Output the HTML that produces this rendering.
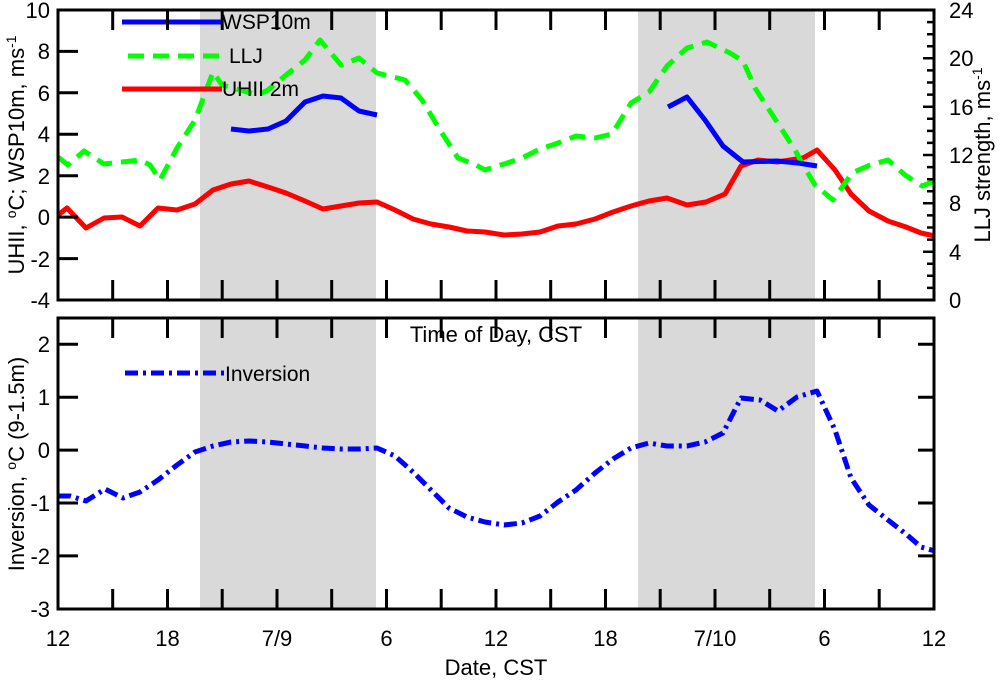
<!DOCTYPE html>
<html><head><meta charset="utf-8"><style>
html,body{margin:0;padding:0;background:#fff;}
svg{display:block;font-family:"Liberation Sans",sans-serif;}
</style></head><body>
<svg width="1000" height="683" viewBox="0 0 1000 683" xmlns="http://www.w3.org/2000/svg">
<rect x="200" y="10" width="176" height="290" fill="#d9d9d9"/>
<rect x="638" y="10" width="177" height="290" fill="#d9d9d9"/>
<rect x="200" y="318" width="176" height="291" fill="#d9d9d9"/>
<rect x="638" y="318" width="177" height="291" fill="#d9d9d9"/>

<g fill="none" stroke-width="5" stroke-linejoin="round">
<polyline stroke="#ff0000" points="58,215 67,208 86,228 104,218 122,217 140,226 158,208 177,210 195,204 213,190 231,184 249,181 268,187 286,193 305,201 323,209 341,206 359,203 377,202 395,210 413,219 431,224 449,227 467,231 485,232 504,235 522,234 540,232 558,226 576,224 595,219 613,212 631,206 649,201 667,198 687,205 706,202 725,194 741,166 758,160 777,162 803,158 817,150 835,170 851,194 869,211 888,221 906,227 921,233 935,236"/>
<polyline stroke="#00ff00" stroke-dasharray="16,9" points="58,157 68,165 84,151 104,164 140,160 150,165 160,180 177,148 195,120 213,72 222,85 240,90 258,95 268,90 286,75 305,60 320,40 341,65 359,58 377,73 405,80 422,100 440,130 458,158 476,165 485,170 504,164 522,158 540,149 558,143 576,136 595,138 612,134 631,103 649,92 667,66 687,48 707,42 730,53 743,61 755,88 777,122 795,150 803,165 815,185 833,200 852,173 870,165 888,160 905,175 922,186 935,181"/>
<polyline stroke="#0000ff" points="231,129 249,131 268,129 286,121 305,102 323,96 341,98 359,111 377,115"/>
<polyline stroke="#0000ff" points="668,107 687,97 705,120 723,146 743,162 777,161 798,163 817,166"/>
</g>
<line x1="122" y1="22" x2="222" y2="22" stroke="#0000ff" stroke-width="5"/>
<line x1="128" y1="56" x2="228" y2="56" stroke="#00ff00" stroke-width="5" stroke-dasharray="16,9"/>
<line x1="122" y1="89" x2="222" y2="89" stroke="#ff0000" stroke-width="5"/>
<g font-size="21" fill="#000">
<text x="222" y="29">WSP10m</text>
<text x="229" y="63">LLJ</text>
<text x="222" y="96">UHII 2m</text>
</g>

<polyline fill="none" stroke="#0000ff" stroke-width="5" stroke-linejoin="round" stroke-dasharray="13,5,3,5" points="58,496 70,496 86,501 105,489 123,498 140,492 158,480 177,465 195,452 213,446 231,442 249,441 268,442 286,444 305,446 323,448 341,449 359,449 377,448 395,456 413,472 431,490 449,508 467,517 485,522 504,525 522,523 540,516 558,502 576,490 595,473 613,459 631,448 649,443 667,446 687,446 705,442 723,433 741,398 760,400 778,411 797,397 817,391 835,430 851,478 869,505 888,520 906,534 921,547 935,551"/>
<line x1="125" y1="373" x2="225" y2="373" stroke="#0000ff" stroke-width="5" stroke-dasharray="13,5,3,5"/>
<text x="225" y="381" font-size="21">Inversion</text>

<g fill="none" stroke="#000" stroke-width="3">
<rect x="58" y="10" width="876" height="290"/>
<rect x="58" y="318" width="876" height="291"/>
</g>
<g stroke="#000" stroke-width="3">
<path d="M112.7,10v20M167.5,10v20M222.2,10v20M277,10v20M331.7,10v20M386.5,10v20M441.2,10v20M496,10v20M550.7,10v20M605.5,10v20M660.2,10v20M715,10v20M769.7,10v20M824.5,10v20M879.2,10v20"/>
<path d="M112.7,300v-20M167.5,300v-20M222.2,300v-20M277,300v-20M331.7,300v-20M386.5,300v-20M441.2,300v-20M496,300v-20M550.7,300v-20M605.5,300v-20M660.2,300v-20M715,300v-20M769.7,300v-20M824.5,300v-20M879.2,300v-20"/>
<path d="M112.7,318v20M167.5,318v20M222.2,318v20M277,318v20M331.7,318v20M386.5,318v20M441.2,318v20M496,318v20M550.7,318v20M605.5,318v20M660.2,318v20M715,318v20M769.7,318v20M824.5,318v20M879.2,318v20"/>
<path d="M112.7,609v-20M167.5,609v-20M222.2,609v-20M277,609v-20M331.7,609v-20M386.5,609v-20M441.2,609v-20M496,609v-20M550.7,609v-20M605.5,609v-20M660.2,609v-20M715,609v-20M769.7,609v-20M824.5,609v-20M879.2,609v-20"/>
<path d="M58,51.4h20M58,92.8h20M58,134.3h20M58,175.7h20M58,217.1h20M58,258.6h20"/>
<path d="M58,344.3h20M58,397.2h20M58,450.1h20M58,503h20M58,555.9h20"/>
<path d="M934,344.3h-16M934,397.2h-16M934,450.1h-16M934,503h-16M934,555.9h-16"/>
</g>
<g stroke="#000" stroke-width="2.5">
<path d="M934,58.3h-11M934,106.7h-11M934,155h-11M934,203.3h-11M934,251.7h-11"/>
<path d="M934,22.1h-7M934,34.2h-7M934,46.3h-7M934,70.4h-7M934,82.5h-7M934,94.6h-7M934,118.8h-7M934,130.9h-7M934,142.9h-7M934,167.1h-7M934,179.2h-7M934,191.3h-7M934,215.4h-7M934,227.5h-7M934,239.6h-7M934,263.8h-7M934,275.8h-7M934,287.9h-7"/>
</g>

<g font-size="22" fill="#000">
<g text-anchor="end">
<text x="50" y="18">10</text><text x="50" y="59">8</text><text x="50" y="101">6</text><text x="50" y="142">4</text><text x="50" y="184">2</text><text x="50" y="225">0</text><text x="50" y="267">-2</text><text x="50" y="308">-4</text>
<text x="50" y="352">2</text><text x="50" y="405">1</text><text x="50" y="458">0</text><text x="50" y="511">-1</text><text x="50" y="564">-2</text><text x="50" y="617">-3</text>
</g>
<text x="949" y="18">24</text><text x="949" y="66">20</text><text x="949" y="115">16</text><text x="949" y="163">12</text><text x="949" y="211">8</text><text x="949" y="260">4</text><text x="949" y="308">0</text>
<g text-anchor="middle">
<text x="58" y="646">12</text><text x="167.5" y="646">18</text><text x="277" y="646">7/9</text><text x="386.5" y="646">6</text><text x="496" y="646">12</text><text x="605.5" y="646">18</text><text x="715" y="646">7/10</text><text x="824.5" y="646">6</text><text x="934" y="646">12</text>
<text x="496" y="675">Date, CST</text>
<text x="496" y="342">Time of Day, CST</text>
</g>
<text transform="translate(24,155) rotate(-90)" text-anchor="middle">UHII, <tspan font-size="14" dy="-8">o</tspan><tspan dy="8">C; WSP10m, ms</tspan><tspan font-size="14" dy="-8">-1</tspan></text>
<text transform="translate(24,464) rotate(-90)" text-anchor="middle">Inversion, <tspan font-size="14" dy="-8">o</tspan><tspan dy="8">C (9-1.5m)</tspan></text>
<text transform="translate(990,155) rotate(-90)" text-anchor="middle">LLJ strength, ms<tspan font-size="14" dy="-8">-1</tspan></text>
</g>
</svg>
</body></html>
